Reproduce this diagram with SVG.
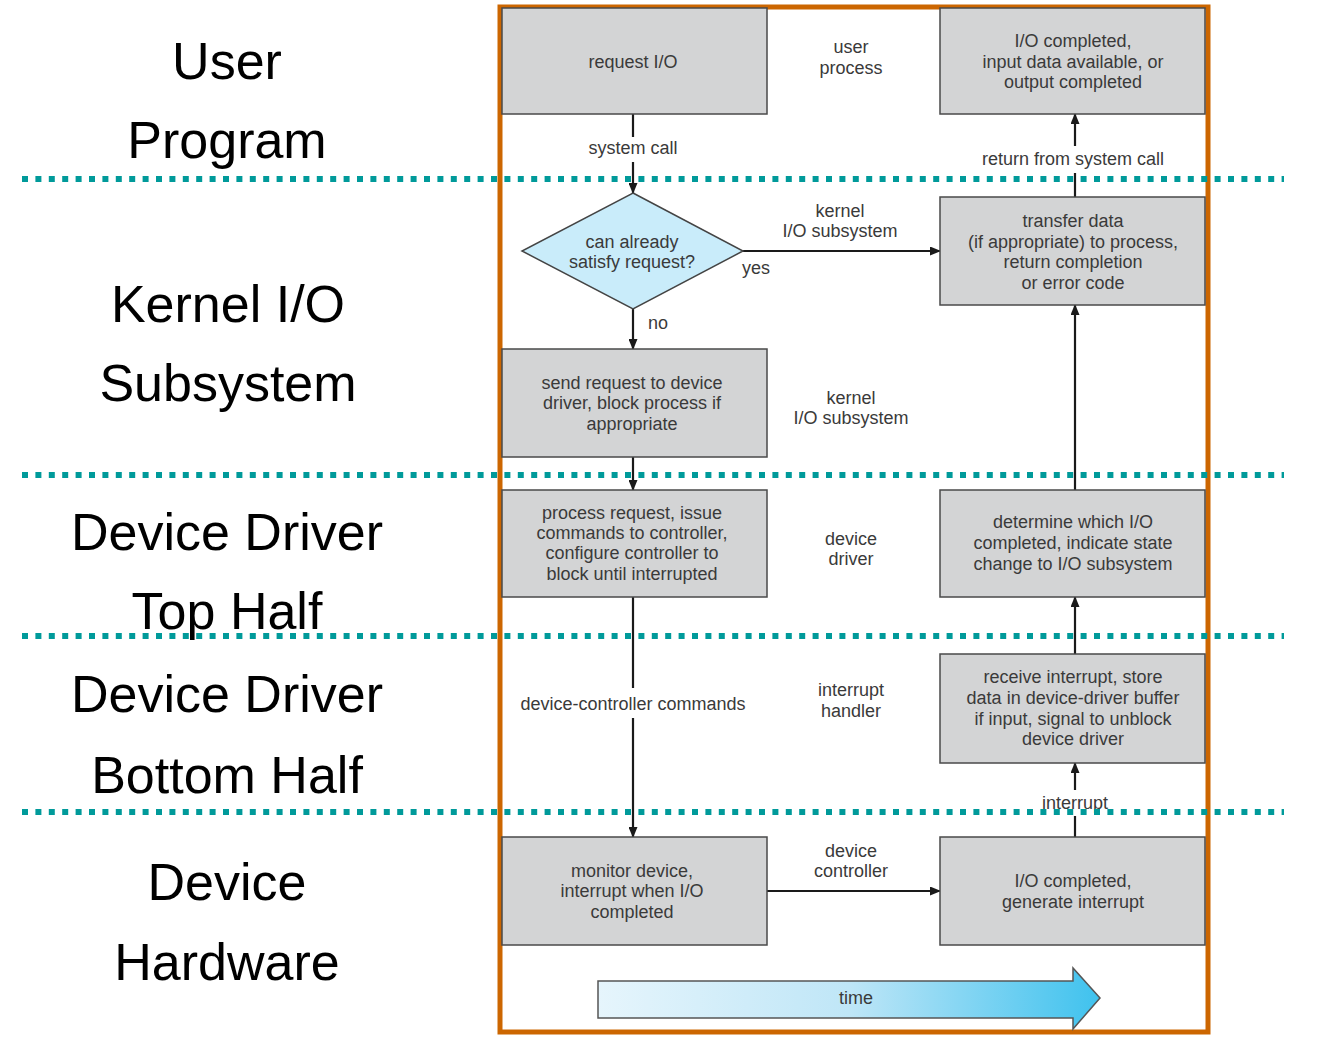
<svg xmlns="http://www.w3.org/2000/svg" width="1344" height="1058" viewBox="0 0 1344 1058">
<style>
.box{fill:#d3d4d5;stroke:#4a4a4a;stroke-width:1.5}
.t{font-family:"Liberation Sans",Arial,sans-serif;font-size:18px;fill:#3a3a3a;text-anchor:middle}
.big{font-family:"Liberation Sans",Arial,sans-serif;font-size:52px;fill:#000;text-anchor:middle}
.c{stroke:#1a1a1a;stroke-width:2.2;fill:none}
.dot{stroke:#009a9a;stroke-width:6;stroke-dasharray:6 7.4;fill:none}
</style>
<defs>
<marker id="ah" markerUnits="userSpaceOnUse" markerWidth="11" markerHeight="9" refX="10" refY="4.5" orient="auto">
<path d="M0,0 L11,4.5 L0,9 Z" fill="#1a1a1a"/>
</marker>
<linearGradient id="tg" x1="0" y1="0" x2="1" y2="0">
<stop offset="0" stop-color="#e6f5fc"/>
<stop offset="0.5" stop-color="#bfe6f7"/>
<stop offset="1" stop-color="#3fc2ee"/>
</linearGradient>
</defs>
<rect width="1344" height="1058" fill="#fff"/>

<g id="frame"><rect x="500" y="7" width="708" height="1025" fill="none" stroke="#cc6600" stroke-width="5"/></g>

<g id="connectors">
<line class="c" x1="633" y1="114" x2="633" y2="137"/>
<line class="c" x1="633" y1="162" x2="633" y2="193" marker-end="url(#ah)"/>
<line class="c" x1="743" y1="251" x2="940" y2="251" marker-end="url(#ah)"/>
<line class="c" x1="633" y1="309" x2="633" y2="349" marker-end="url(#ah)"/>
<line class="c" x1="633" y1="457" x2="633" y2="490" marker-end="url(#ah)"/>
<line class="c" x1="633" y1="597" x2="633" y2="688"/>
<line class="c" x1="633" y1="718" x2="633" y2="837" marker-end="url(#ah)"/>
<line class="c" x1="767" y1="891" x2="940" y2="891" marker-end="url(#ah)"/>
<line class="c" x1="1075" y1="837" x2="1075" y2="816"/>
<line class="c" x1="1075" y1="790" x2="1075" y2="763" marker-end="url(#ah)"/>
<line class="c" x1="1075" y1="654" x2="1075" y2="597" marker-end="url(#ah)"/>
<line class="c" x1="1075" y1="490" x2="1075" y2="305" marker-end="url(#ah)"/>
<line class="c" x1="1075" y1="197" x2="1075" y2="173"/>
<line class="c" x1="1075" y1="146" x2="1075" y2="114" marker-end="url(#ah)"/>
</g>

<g id="n-request"><rect class="box" x="502" y="8" width="265" height="106"/><text class="t" x="633" y="68">request I/O</text></g>
<g id="n-iocompleted"><rect class="box" x="940" y="8" width="265" height="106"/><text class="t" x="1073" y="47">I/O completed,</text><text class="t" x="1073" y="68">input data available, or</text><text class="t" x="1073" y="88">output completed</text></g>
<g id="n-decision"><polygon points="633,193 743,251 633,309 522,251" fill="#c9ecfa" stroke="#444" stroke-width="1.5"/><text class="t" x="632" y="248">can already</text><text class="t" x="632" y="268">satisfy request?</text></g>
<g id="n-transfer"><rect class="box" x="940" y="197" width="265" height="108"/><text class="t" x="1073" y="227">transfer data</text><text class="t" x="1073" y="248">(if appropriate) to process,</text><text class="t" x="1073" y="268">return completion</text><text class="t" x="1073" y="289">or error code</text></g>
<g id="n-send"><rect class="box" x="502" y="349" width="265" height="108"/><text class="t" x="632" y="389">send request to device</text><text class="t" x="632" y="409">driver, block process if</text><text class="t" x="632" y="430">appropriate</text></g>
<g id="n-process"><rect class="box" x="502" y="490" width="265" height="107"/><text class="t" x="632" y="519">process request, issue</text><text class="t" x="632" y="539">commands to controller,</text><text class="t" x="632" y="559">configure controller to</text><text class="t" x="632" y="580">block until interrupted</text></g>
<g id="n-determine"><rect class="box" x="940" y="490" width="265" height="107"/><text class="t" x="1073" y="528">determine which I/O</text><text class="t" x="1073" y="549">completed, indicate state</text><text class="t" x="1073" y="570">change to I/O subsystem</text></g>
<g id="n-receive"><rect class="box" x="940" y="654" width="265" height="109"/><text class="t" x="1073" y="683">receive interrupt, store</text><text class="t" x="1073" y="704">data in device-driver buffer</text><text class="t" x="1073" y="725">if input, signal to unblock</text><text class="t" x="1073" y="745">device driver</text></g>
<g id="n-monitor"><rect class="box" x="502" y="837" width="265" height="108"/><text class="t" x="632" y="877">monitor device,</text><text class="t" x="632" y="897">interrupt when I/O</text><text class="t" x="632" y="918">completed</text></g>
<g id="n-generate"><rect class="box" x="940" y="837" width="265" height="108"/><text class="t" x="1073" y="887">I/O completed,</text><text class="t" x="1073" y="908">generate interrupt</text></g>

<g id="labels">
<text class="t" x="633" y="154">system call</text>
<text class="t" x="1073" y="165">return from system call</text>
<text class="t" x="851" y="53">user</text><text class="t" x="851" y="74">process</text>
<text class="t" x="840" y="217">kernel</text><text class="t" x="840" y="237">I/O subsystem</text>
<text class="t" x="756" y="274">yes</text>
<text class="t" x="658" y="329">no</text>
<text class="t" x="851" y="404">kernel</text><text class="t" x="851" y="424">I/O subsystem</text>
<text class="t" x="851" y="545">device</text><text class="t" x="851" y="565">driver</text>
<text class="t" x="633" y="710">device-controller commands</text>
<text class="t" x="851" y="696">interrupt</text><text class="t" x="851" y="717">handler</text>
<text class="t" x="1075" y="809">interrupt</text>
<text class="t" x="851" y="857">device</text><text class="t" x="851" y="877">controller</text>
</g>

<g id="time">
<path d="M598,981 L1073,981 L1073,968 L1100,998 L1073,1029 L1073,1018 L598,1018 Z" fill="url(#tg)" stroke="#555" stroke-width="1.5"/>
<text class="t" x="856" y="1004">time</text>
</g>

<g id="dividers">
<line class="dot" x1="22" y1="179" x2="1284" y2="179"/>
<line class="dot" x1="22" y1="475" x2="1284" y2="475"/>
<line class="dot" x1="22" y1="636" x2="1284" y2="636"/>
<line class="dot" x1="22" y1="812" x2="1284" y2="812"/>
</g>

<g id="layers">
<text class="big" x="227" y="79">User</text>
<text class="big" x="227" y="158">Program</text>
<text class="big" x="228" y="322">Kernel I/O</text>
<text class="big" x="228" y="401">Subsystem</text>
<text class="big" x="227" y="550">Device Driver</text>
<text class="big" x="227" y="629">Top Half</text>
<text class="big" x="227" y="712">Device Driver</text>
<text class="big" x="227" y="793">Bottom Half</text>
<text class="big" x="227" y="900">Device</text>
<text class="big" x="227" y="980">Hardware</text>
</g>
</svg>
